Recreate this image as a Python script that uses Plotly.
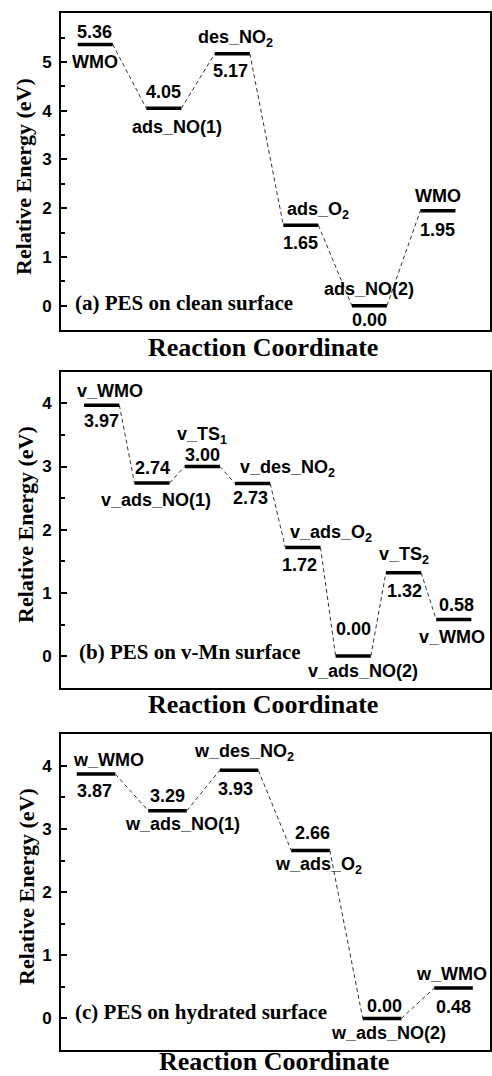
import plotly.graph_objects as go

# ---------------- data ----------------
A_NAMES = ["WMO", "ads_NO(1)", "des_NO<sub>2</sub>", "ads_O<sub>2</sub>", "ads_NO(2)", "WMO"]
A_ENERGY = [5.36, 4.05, 5.17, 1.65, 0.00, 1.95]
A_TITLE = "(a) PES on clean surface"

B_NAMES = ["v_WMO", "v_ads_NO(1)", "v_TS<sub>1</sub>", "v_des_NO<sub>2</sub>",
           "v_ads_O<sub>2</sub>", "v_ads_NO(2)", "v_TS<sub>2</sub>", "v_WMO"]
B_ENERGY = [3.97, 2.74, 3.00, 2.73, 1.72, 0.00, 1.32, 0.58]
B_TITLE = "(b) PES on v-Mn surface"

C_NAMES = ["w_WMO", "w_ads_NO(1)", "w_des_NO<sub>2</sub>", "w_ads_O<sub>2</sub>", "w_ads_NO(2)", "w_WMO"]
C_ENERGY = [3.87, 3.29, 3.93, 2.66, 0.00, 0.48]
C_TITLE = "(c) PES on hydrated surface"

A_YTICKS = [0, 1, 2, 3, 4, 5]
BC_YTICKS = [0, 1, 2, 3, 4]

X_TITLE = "Reaction Coordinate"
Y_TITLE = "Relative Energy (eV)"

# ---------------- layout / style config ----------------
W, H = 492, 1076
SANS = "Arial, Liberation Sans, sans-serif"
SERIF = "Times New Roman, Liberation Serif, serif"

# label offsets in px: (name_dx, name_dy, value_dx, value_dy); dy positive = downward
A_OFF = [(0, 17.5, -1, -12.5), (13, 19, 0, -16), (3, -15, -2, 17),
         (17, -15, 0, 18), (0, -17, 0, 14), (0, -15, 0, 19)]
B_OFF = [(8, -14, 0, 16), (4, 17, 0, -15), (0, -31, 0, -12), (35, -15, -2, 14),
         (28, -13.5, -3, 18), (10, 15, 0, -27), (0, -17, 1, 18), (-2, 17.5, 3, -14.5)]
C_OFF = [(12, -14, -1.5, 17), (15, 13, 0, -15), (5, -18, -4, 19),
         (8, 15, 1.5, -17), (6, 15, 2, -12.5), (-2, -14, 0, 19)]

panels = [
    dict(names=A_NAMES, E=A_ENERGY, title=A_TITLE, off=A_OFF, ticks=A_YTICKS,
         yr=[-0.5, 6.0], xr=[0.5, 6.76], hw=0.256, top=13.3, bot=330,
         xt=(263, 347), yt=(23, 177), pt=(73, 303)),
    dict(names=B_NAMES, E=B_ENERGY, title=B_TITLE, off=B_OFF, ticks=BC_YTICKS,
         yr=[-0.5, 4.5], xr=[0.19, 8.72], hw=0.35, top=371.7, bot=687.7,
         xt=(263, 704), yt=(25, 525), pt=(77, 652)),
    dict(names=C_NAMES, E=C_ENERGY, title=C_TITLE, off=C_OFF, ticks=BC_YTICKS,
         yr=[-0.5, 4.5], xr=[0.51, 6.51], hw=0.27, top=734.3, bot=1050,
         xt=(274, 1061), yt=(26, 887), pt=(73, 1012)),
]

X0, X1 = 61, 490

fig = go.Figure()
annotations = []
layout_axes = {}

for k, p in enumerate(panels):
    sfx = "" if k == 0 else str(k + 1)
    xa, ya = "x" + sfx, "y" + sfx
    n = len(p["E"])
    xs = list(range(1, n + 1))
    hw = p["hw"]

    # levels
    lx, ly = [], []
    for x, e in zip(xs, p["E"]):
        lx += [x - hw, x + hw, None]
        ly += [e, e, None]
    fig.add_trace(go.Scatter(x=lx, y=ly, mode="lines", xaxis=xa, yaxis=ya,
                             line=dict(color="black", width=3.5), showlegend=False,
                             hoverinfo="skip"))
    # connectors
    cx, cy = [], []
    for i in range(n - 1):
        cx += [xs[i] + hw, xs[i + 1] - hw, None]
        cy += [p["E"][i], p["E"][i + 1], None]
    fig.add_trace(go.Scatter(x=cx, y=cy, mode="lines", xaxis=xa, yaxis=ya,
                             line=dict(color="#333333", width=1, dash="4px,3px"),
                             showlegend=False, hoverinfo="skip"))

    # labels
    for x, e, name, (ndx, ndy, vdx, vdy) in zip(xs, p["E"], p["names"], p["off"]):
        for txt, dx, dy in ((name, ndx, ndy), (f"{e:.2f}", vdx, vdy)):
            annotations.append(dict(
                x=x, y=e, xref=xa, yref=ya, text=f"<b>{txt}</b>", showarrow=False,
                xanchor="center", yanchor="middle", xshift=dx, yshift=-dy,
                font=dict(family=SANS, size=18, color="black")))

    # panel title
    annotations.append(dict(x=p["pt"][0] / W, y=1 - p["pt"][1] / H, xref="paper", yref="paper",
                            text=f"<b>{p['title']}</b>", showarrow=False,
                            xanchor="left", yanchor="middle",
                            font=dict(family=SERIF, size=21, color="black")))
    # axis titles
    annotations.append(dict(x=p["xt"][0] / W, y=1 - p["xt"][1] / H, xref="paper", yref="paper",
                            text=f"<b>{X_TITLE}</b>", showarrow=False,
                            xanchor="center", yanchor="middle",
                            font=dict(family=SERIF, size=26, color="black")))
    annotations.append(dict(x=p["yt"][0] / W, y=1 - p["yt"][1] / H, xref="paper", yref="paper",
                            text=f"<b>{Y_TITLE}</b>", showarrow=False, textangle=-90,
                            xanchor="center", yanchor="middle",
                            font=dict(family=SERIF, size=22, color="black")))

    ydom = [1 - p["bot"] / H, 1 - p["top"] / H]
    layout_axes["xaxis" + sfx] = dict(
        domain=[X0 / W, X1 / W], range=p["xr"], anchor=ya, showgrid=False, zeroline=False,
        showticklabels=False, ticks="", showline=True, mirror=True, linecolor="black",
        linewidth=2, automargin=False)
    layout_axes["yaxis" + sfx] = dict(
        domain=ydom, range=p["yr"], anchor=xa, showgrid=False, zeroline=False,
        tickvals=p["ticks"], ticktext=[f"<b>{t}</b>" for t in p["ticks"]],
        ticks="inside", ticklen=6, tickwidth=1.5, tickcolor="black",
        minor=dict(ticks="inside", ticklen=3.5, tickwidth=1.5, dtick=0.5,
                   tick0=0, tickcolor="black", showgrid=False),
        tickfont=dict(family=SANS, size=17, color="black"), ticklabelstandoff=4,
        showline=True, mirror=True, linecolor="black", linewidth=2, automargin=False)

fig.update_layout(width=W, height=H, margin=dict(l=0, r=0, t=0, b=0),
                  paper_bgcolor="white", plot_bgcolor="white",
                  annotations=annotations, showlegend=False, **layout_axes)

fig.write_html("out.html")
